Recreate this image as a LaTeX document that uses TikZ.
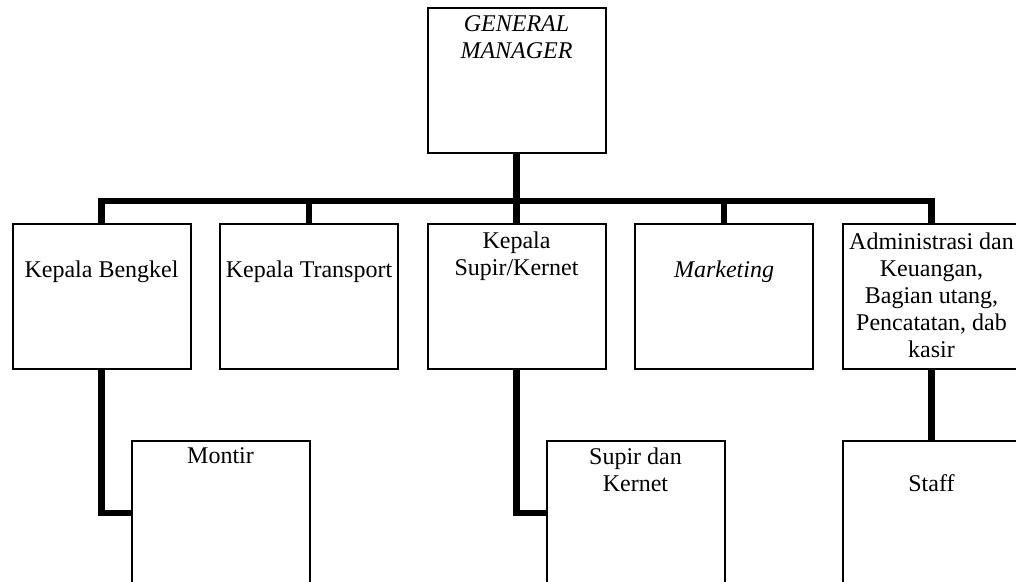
\documentclass[tikz,border=0pt]{standalone}
\usepackage{fontspec}
\setmainfont{Liberation Serif}
\usetikzlibrary{positioning}

\tikzstyle{box} = [draw=black,line width=1pt,rectangle,minimum width=89pt,minimum height=72.5pt,inner sep=0pt]
\tikzstyle{txt} = [align=center,inner sep=0pt,font=\fontsize{12}{13.5}\selectfont]
\tikzstyle{link} = [draw=black,line width=3.2pt]

\begin{document}
\begin{tikzpicture}[x=0.5pt,y=-0.5pt]
    \useasboundingbox (0,0) rectangle (1016,582);
    \clip (0,0) rectangle (1016,582);

    \coordinate (GM) at (516.5, 81);
    \coordinate (KB) at (101.5, 296.5);
    \coordinate (KT) at (309, 296.5);
    \coordinate (KS) at (516.5, 296.5);
    \coordinate (MK) at (724, 296.5);
    \coordinate (AK) at (931.5, 296.5);
    \coordinate (MT) at (220.5, 513);
    \coordinate (SK) at (635.5, 513);
    \coordinate (ST) at (931.5, 513);
    \coordinate (bar) at (516.5, 201);

    \node [style=box] (gm) at (GM) {};
    \node [style=box] (kb) at (KB) {};
    \node [style=box] (kt) at (KT) {};
    \node [style=box] (ks) at (KS) {};
    \node [style=box] (mk) at (MK) {};
    \node [style=box] (ak) at (AK) {};
    \node [style=box] (mt) at (MT) {};
    \node [style=box] (sk) at (SK) {};
    \node [style=box] (st) at (ST) {};

    \node [style=txt, below=4pt of gm.north] (gmtext) {\itshape GENERAL\\\itshape MANAGER};
    \node [style=txt, below=18.5pt of kb.north] (kbtext) {Kepala Bengkel};
    \node [style=txt, below=18.5pt of kt.north] (kttext) {Kepala Transport};
    \node [style=txt, below=4pt of ks.north] (kstext) {Kepala\\Supir/Kernet};
    \node [style=txt, below=18.5pt of mk.north] (mktext) {\itshape Marketing};
    \node [style=txt, below=4.5pt of ak.north] (aktext) {Administrasi dan\\Keuangan,\\Bagian utang,\\Pencatatan, dab\\kasir};
    \node [style=txt, below=4pt of mt.north] (mttext) {Montir};
    \node [style=txt, below=4pt of sk.north] (sktext) {Supir dan\\Kernet};
    \node [style=txt, below=17.5pt of st.north] (sttext) {Staff};

    \draw [style=link] (gm.south) -- (bar);
    \draw [style=link] (kb.north) -- (kb.north |- bar) -- (ak.north |- bar) -- (ak.north);
    \draw [style=link] (kt.north) -- (kt.north |- bar);
    \draw [style=link] (ks.north) -- (ks.north |- bar);
    \draw [style=link] (mk.north) -- (mk.north |- bar);
    \draw [style=link] (kb.south) |- (mt.west);
    \draw [style=link] (ks.south) |- (sk.west);
    \draw [style=link] (ak.south) -- (st.north);
\end{tikzpicture}
\end{document}
